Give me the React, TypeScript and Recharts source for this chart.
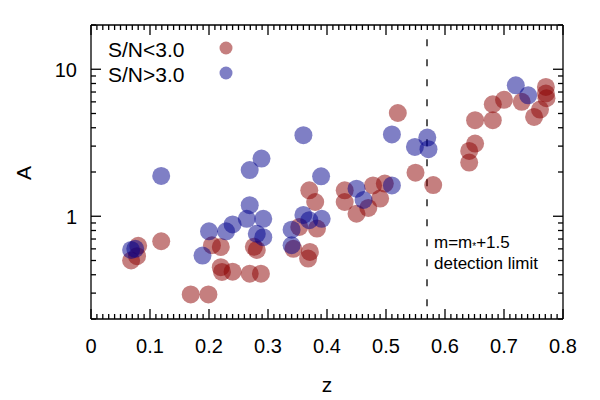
import React from "react";
import { ReferenceLine, Scatter, ScatterChart, XAxis, YAxis } from "recharts";

// S/N < 3.0 (red)
const lowSnZ = [0.08, 0.078, 0.068, 0.119, 0.169, 0.199, 0.205, 0.22, 0.22, 0.222, 0.24, 0.269, 0.288, 0.276, 0.281,
  0.343, 0.371, 0.368, 0.353, 0.383, 0.37, 0.38, 0.43, 0.43, 0.45, 0.47, 0.478, 0.49, 0.498, 0.52, 0.55, 0.58,
  0.641, 0.641, 0.651, 0.651, 0.681, 0.681, 0.7, 0.73, 0.751, 0.761, 0.771, 0.771, 0.772];
const lowSnA = [0.63, 0.535, 0.5, 0.676, 0.294, 0.294, 0.635, 0.618, 0.45, 0.418, 0.42, 0.407, 0.407, 0.62, 0.59,
  0.6, 0.572, 0.515, 0.846, 0.825, 1.5, 1.25, 1.5, 1.25, 1.04, 1.14, 1.62, 1.32, 1.67, 5.04, 1.98, 1.63,
  2.32, 2.78, 3.12, 4.5, 4.5, 5.78, 6.2, 6.0, 4.74, 5.32, 7.58, 6.84, 6.35];

// S/N > 3.0 (blue)
const highSnZ = [0.068, 0.075, 0.119, 0.189, 0.2, 0.229, 0.24, 0.269, 0.269, 0.264, 0.292, 0.281, 0.292, 0.289,
  0.36, 0.39, 0.36, 0.37, 0.391, 0.34, 0.34, 0.45, 0.462, 0.51, 0.51, 0.549, 0.57, 0.572, 0.72, 0.741];
const highSnA = [0.59, 0.6, 1.88, 0.54, 0.79, 0.79, 0.88, 2.06, 1.19, 0.96, 0.96, 0.76, 0.72, 2.47,
  3.56, 1.87, 1.02, 0.94, 0.96, 0.81, 0.635, 1.54, 1.29, 1.62, 3.6, 2.96, 3.43, 2.86, 7.78, 6.65];

const xMajorTicks = [0, 0.1, 0.2, 0.3, 0.4, 0.5, 0.6, 0.7, 0.8];
const yTicks = [0.2, 0.3, 0.4, 0.5, 0.6, 0.7, 0.8, 0.9, 1, 2, 3, 4, 5, 6, 7, 8, 9, 10, 20];
const yLabelled = [1, 10];
const detectionZ = 0.5695;

const xTicks: number[] = [];
for (let i = 0; i <= 80; i++) xTicks.push(i / 100);

const lowSn = lowSnZ.map((z, i) => ({ z, a: lowSnA[i] }));
const highSn = highSnZ.map((z, i) => ({ z, a: highSnA[i] }));

const FONT = "'Liberation Sans', Arial, sans-serif";
const RED = "#8b0000";
const BLUE = "#00008b";

const isMajorX = (v: number) => xMajorTicks.some((m) => Math.abs(m - v) < 1e-6);
const isMajorY = (v: number) => yLabelled.some((m) => Math.abs(m - v) < 1e-6);

const XTick = ({ x, y, payload, top }: any) => {
  const major = isMajorX(payload.value);
  const len = major ? 10 : 5;
  const dir = top ? 1 : -1;
  return (
    <g>
      <line x1={x} y1={y} x2={x} y2={y + dir * len} stroke="#000" strokeWidth={1.3} />
      {!top && major && (
        <text x={x} y={y + 27} textAnchor="middle" dominantBaseline="central" fontSize={20} fontFamily={FONT} fill="#000">
          {payload.value === 0 ? "0" : payload.value.toFixed(1)}
        </text>
      )}
    </g>
  );
};

const YTick = ({ x, y, payload, right }: any) => {
  const major = isMajorY(payload.value);
  const len = major ? 10 : 5;
  const dir = right ? -1 : 1;
  return (
    <g>
      <line x1={x} y1={y} x2={x + dir * len} y2={y} stroke="#000" strokeWidth={1.3} />
      {!right && major && (
        <text x={x - 14} y={y + 1} textAnchor="end" dominantBaseline="central" fontSize={20} fontFamily={FONT} fill="#000">
          {payload.value}
        </text>
      )}
    </g>
  );
};

const dot = (color: string) => (p: any) => <circle cx={p.cx} cy={p.cy} r={9} fill={color} fillOpacity={0.5} />;
const noDot = () => <g />;

export default function App() {
  return (
    <div style={{ position: "absolute", left: 0, top: 0, width: 600, height: 400, background: "#fff" }}>
      <ScatterChart width={600} height={400} margin={{ top: 24, right: 36, bottom: 0, left: 0 }}>
        <XAxis xAxisId={0} dataKey="z" type="number" domain={[0, 0.8]} ticks={xTicks} interval={0}
          tickSize={0} tickMargin={0} tickLine={false} tick={<XTick />} height={81}
          axisLine={{ stroke: "#000", strokeWidth: 1.3 }} allowDataOverflow />
        <XAxis xAxisId="top" dataKey="z" orientation="top" type="number" domain={[0, 0.8]} ticks={xTicks} interval={0}
          tickSize={0} tickMargin={0} tickLine={false} tick={<XTick top />} height={1}
          axisLine={{ stroke: "#000", strokeWidth: 1.3 }} allowDataOverflow />
        <YAxis yAxisId={0} dataKey="a" type="number" scale="log" domain={[0.2, 20]} ticks={yTicks} interval={0}
          tickSize={0} tickMargin={0} tickLine={false} tick={<YTick />} width={91}
          axisLine={{ stroke: "#000", strokeWidth: 1.3 }} allowDataOverflow />
        <YAxis yAxisId="right" dataKey="a" orientation="right" type="number" scale="log" domain={[0.2, 20]} ticks={yTicks} interval={0}
          tickSize={0} tickMargin={0} tickLine={false} tick={<YTick right />} width={1}
          axisLine={{ stroke: "#000", strokeWidth: 1.3 }} allowDataOverflow />
        <ReferenceLine xAxisId={0} yAxisId={0}
          segment={[{ x: detectionZ, y: 16 }, { x: detectionZ, y: 0.2 }]}
          stroke="#000" strokeWidth={1.3} strokeDasharray="7 13" />
        <Scatter xAxisId="top" yAxisId="right" data={lowSn} shape={noDot} isAnimationActive={false} />
        <Scatter xAxisId={0} yAxisId={0} data={lowSn} shape={dot(RED)} isAnimationActive={false} />
        <Scatter xAxisId={0} yAxisId={0} data={highSn} shape={dot(BLUE)} isAnimationActive={false} />
      </ScatterChart>
      <svg width={600} height={400} style={{ position: "absolute", left: 0, top: 0, pointerEvents: "none" }}>
        <g fontFamily={FONT} fill="#000">
          <text x={108} y={49} fontSize={21} dominantBaseline="central">S/N&lt;3.0</text>
          <text x={108} y={74} fontSize={21} dominantBaseline="central">S/N&gt;3.0</text>
          <text x={327} y={384} fontSize={21} textAnchor="middle" dominantBaseline="central">z</text>
          <text x={23} y={173} fontSize={21} textAnchor="middle" dominantBaseline="central" transform="rotate(-90 23 173)">A</text>
          <text x={434} y={242} fontSize={17} dominantBaseline="central">
            m=m<tspan fontSize={10} dy={4}>*</tspan><tspan dy={-4}>+1.5</tspan>
          </text>
          <text x={434} y={263} fontSize={17} dominantBaseline="central">detection limit</text>
        </g>
        <circle cx={226} cy={48} r={6.5} fill={RED} fillOpacity={0.5} />
        <circle cx={226} cy={73} r={6.5} fill={BLUE} fillOpacity={0.5} />
      </svg>
    </div>
  );
}
